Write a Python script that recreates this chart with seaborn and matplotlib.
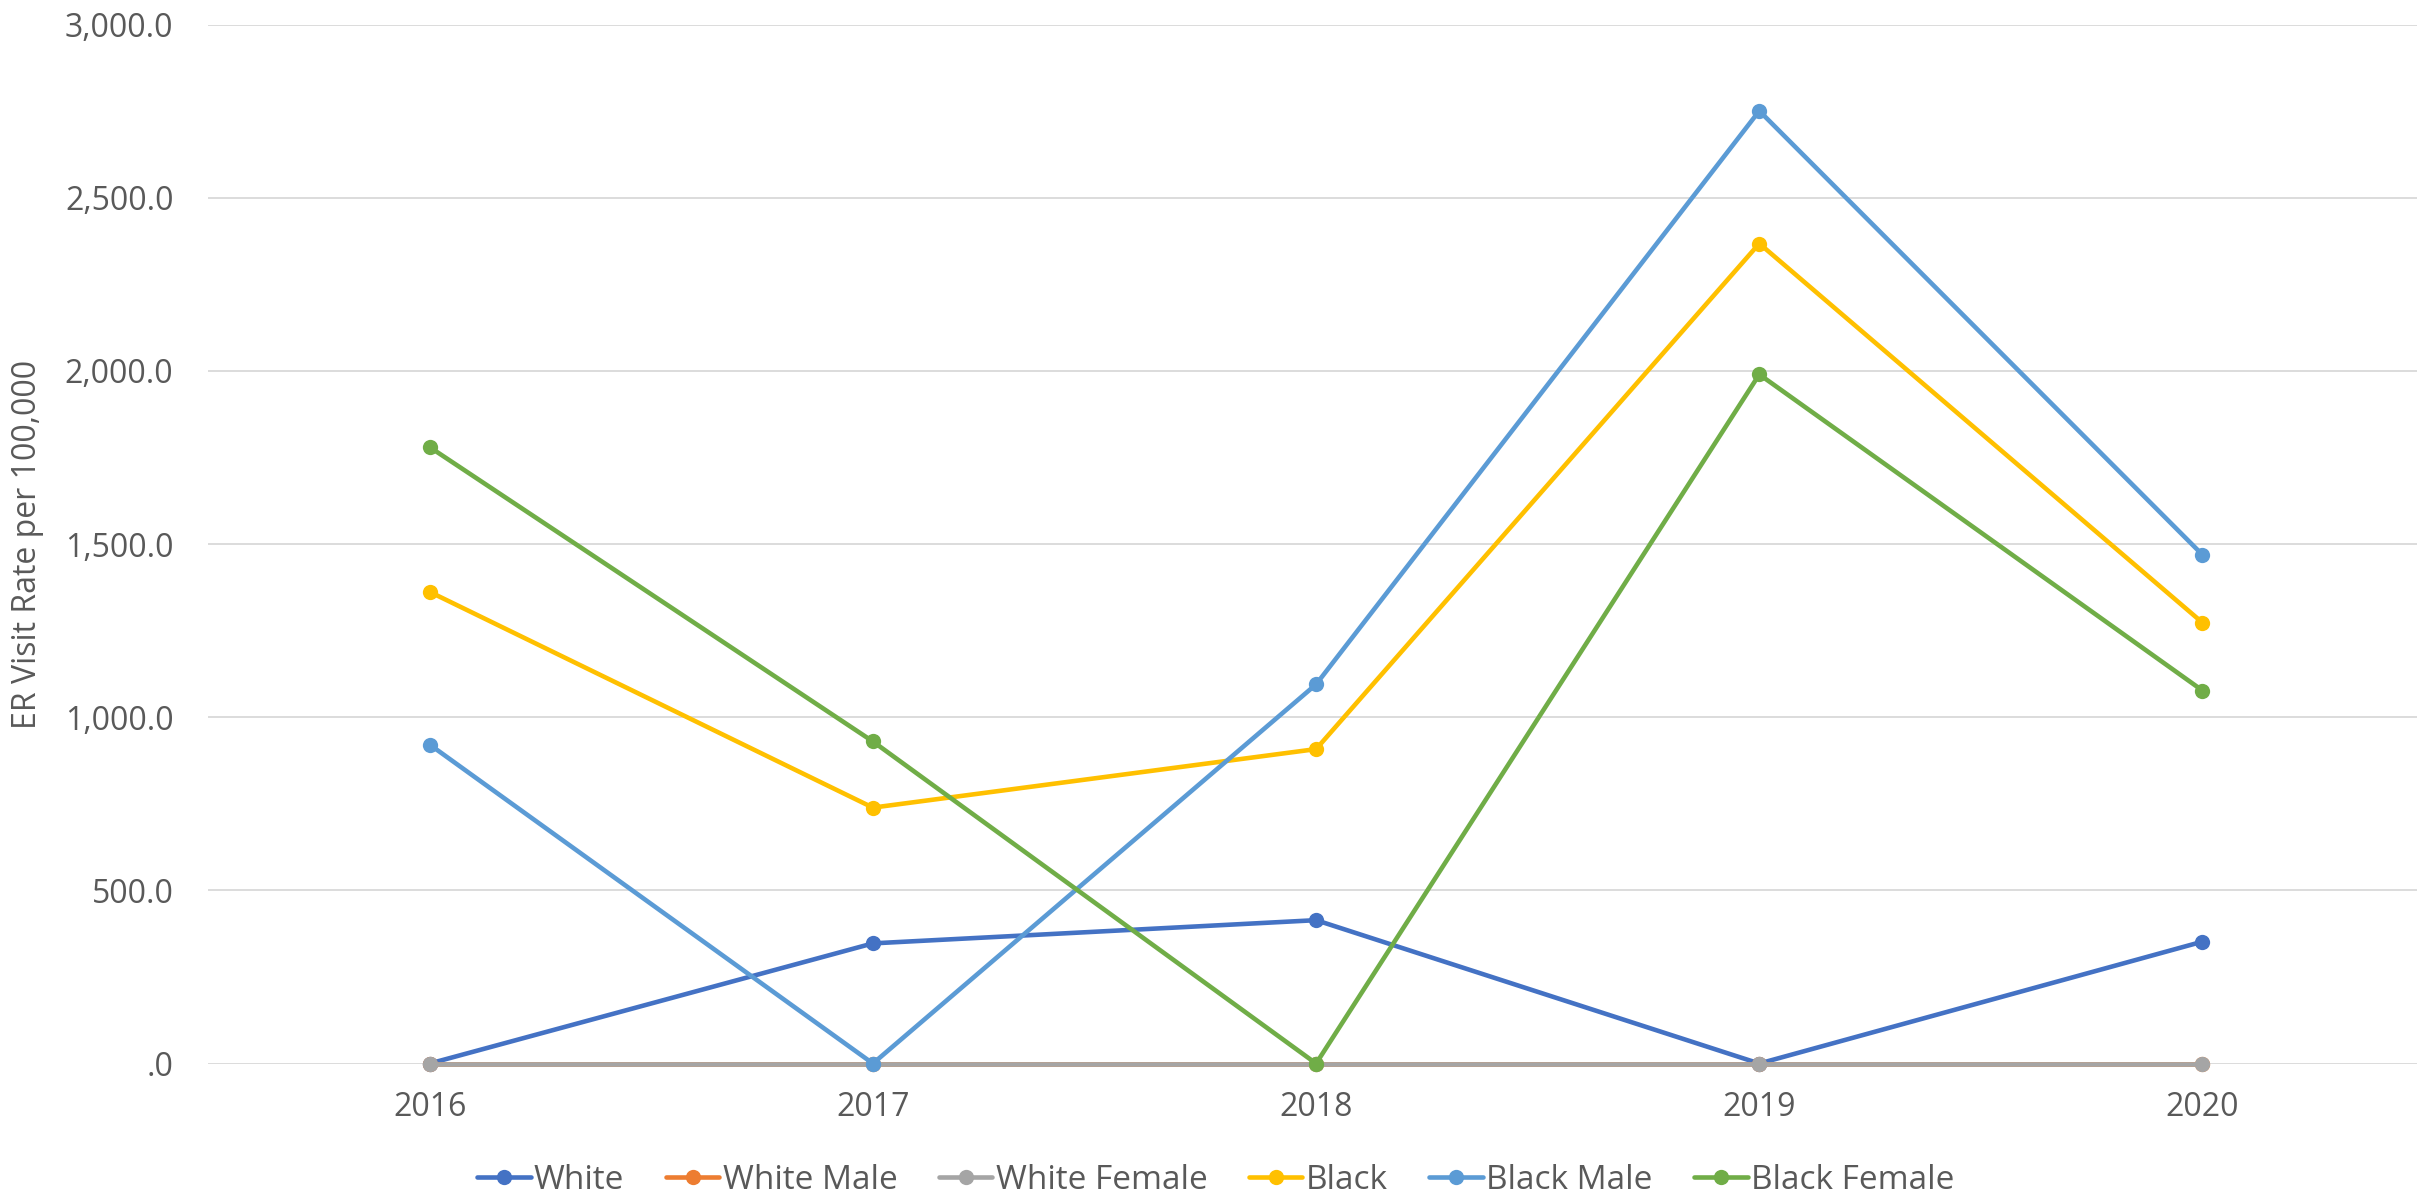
#%% ER visit rate per 100,000 by race/sex, 2016-2020
import pandas as pd
import seaborn as sns
import matplotlib.pyplot as plt
from matplotlib.ticker import FuncFormatter
from matplotlib.lines import Line2D

#%% Dados

anos = [2016, 2017, 2018, 2019, 2020]
grupos = ['White', 'White Male', 'White Female', 'Black', 'Black Male', 'Black Female']

white = [0, 347, 414, 0, 352]
white_male = [0, 0, 0, 0, 0]
white_female = [0, 0, 0, 0, 0]
black = [1362, 739, 908, 2368, 1273]
black_male = [921, 0, 1095, 2751, 1469]
black_female = [1780, 930, 0, 1990, 1077]

cores = ['#4472C4', '#ED7D31', '#A5A5A5', '#FFC000', '#5B9BD5', '#70AD47']

series = [white, white_male, white_female, black, black_male, black_female]
df = pd.concat([pd.DataFrame({'Ano': anos, 'Taxa': s, 'Grupo': g})
                for g, s in zip(grupos, series)], ignore_index=True)

#%% Gráfico

sns.set_theme(style='white')
plt.rcParams['font.family'] = ['Open Sans', 'DejaVu Sans']

fig = plt.figure(figsize=(24.17, 11.97), dpi=100)
ax = fig.add_axes([0.0861, 0.1115, 0.9139, 0.8679])

sns.lineplot(data=df, x='Ano', y='Taxa', hue='Grupo', hue_order=grupos,
             palette=cores, marker='o', markersize=11, markeredgewidth=0,
             linewidth=3.3, sort=False, legend=False, clip_on=False, ax=ax)

ax.set_xlim(2015.5, 2020.484)
ax.set_ylim(0, 3000)
ax.set_xticks(anos)
ax.set_yticks(range(0, 3001, 500))

def fmt(v, pos):
    s = f'{v:,.1f}'
    return s[1:] if s.startswith('0.') else s

ax.yaxis.set_major_formatter(FuncFormatter(fmt))
ax.tick_params(axis='both', length=0, labelsize=23, labelcolor='#595959')
ax.tick_params(axis='y', pad=25)
ax.tick_params(axis='x', pad=20)
ax.grid(axis='y', color='#D6D6D6', linewidth=1.2)
ax.set_axisbelow(True)
for lado in ax.spines.values():
    lado.set_visible(False)

ax.set_xlabel('')
ax.set_ylabel('ER Visit Rate per 100,000', fontsize=23, color='#595959')
ax.yaxis.set_label_coords(-0.0745, 0.5)

handles = [Line2D([], [], color=c, marker='o', markersize=11, markeredgewidth=0,
                  linewidth=3.3) for c in cores]
fig.legend(handles, grupos, loc='center', bbox_to_anchor=(0.503, 0.014),
           ncol=6, frameon=False, fontsize=24, labelcolor='#595959',
           handlelength=1.6, handletextpad=0.1, columnspacing=1.25,
           borderaxespad=0, borderpad=0)

fig.savefig('out.png', dpi=100)
